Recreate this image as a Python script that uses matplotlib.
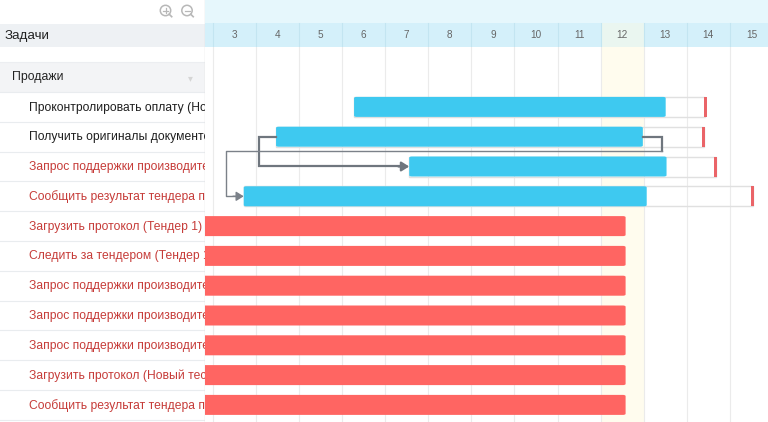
import matplotlib
matplotlib.use('Agg')
import matplotlib.pyplot as plt
from matplotlib.patches import Rectangle, Circle, FancyBboxPatch

plt.rcParams['font.family'] = ['Liberation Sans', 'DejaVu Sans']

# ---------------- data ----------------
header_title = "Задачи"
group_name = "Продажи"
task_names = [
    "Проконтролировать оплату (Новый тест)",
    "Получить оригиналы документов (Тендер 1)",
    "Запрос поддержки производителя (Тендер 1)",
    "Сообщить результат тендера продажам (Тендер 1)",
    "Загрузить протокол (Тендер 1)",
    "Следить за тендером (Тендер 1)",
    "Запрос поддержки производителя (Новый тест)",
    "Запрос поддержки производителя (Тендер 2)",
    "Запрос поддержки производителя (Тендер 3)",
    "Загрузить протокол (Новый тест)",
    "Сообщить результат тендера продажам (Новый тест)",
]
task_late = [False, False, True, True, True, True, True, True, True, True, True]
bar_overdue = [False, False, False, False, True, True, True, True, True, True, True]
task_start = [6.28, 4.47, 7.56, 3.72, 1.0, 1.0, 1.0, 1.0, 1.0, 1.0, 1.0]
task_end = [13.51, 12.98, 13.53, 13.07, 12.58, 12.58, 12.58, 12.58, 12.58, 12.58, 12.58]
task_deadline = [14.43, 14.39, 14.67, 15.53, None, None, None, None, None, None, None]
links = [(1, 2, 'SS'), (1, 3, 'FS')]
day_labels = [3, 4, 5, 6, 7, 8, 9, 10, 11, 12, 13, 14, 15]
today = 12

# ---------------- layout ----------------
W, H = 768, 422
PANEL = 205
HEAD = 47
ROW0 = 92.0
ROWH = 29.8
COLW = 43.1
DAY3_PX = 212.7
X0 = 3 - (DAY3_PX - PANEL) / COLW
X1 = 3 + (W - DAY3_PX) / COLW

def row_px(i):
    return ROW0 + ROWH * (i + 0.5)

BLUE = '#3ec9f0'
RED = '#ff6562'
MARK = '#ea6468'
TXT_RED = '#c63c39'
TXT_BLK = '#1f1f1f'
GRID = '#ebebeb'

fig = plt.figure(figsize=(W / 100, H / 100), dpi=100)
fig.patch.set_facecolor('white')

# ---------------- left panel ----------------
axl = fig.add_axes([0, 0, PANEL / W, 1])
axl.set_xlim(0, PANEL)
axl.set_ylim(H, 0)
axl.axis('off')
axl.axhspan(23.5, HEAD, color='#eef1f4', lw=0)
axl.text(5, 35.5, header_title, fontsize=9.6, color='#222222', va='center', ha='left')
axl.axhspan(62, ROW0, color='#f3f4f6', lw=0)
axl.text(12, 77, group_name, fontsize=8.8, color='#222222', va='center', ha='left')
axl.text(190, 78, '▾', fontsize=7, color='#d5d5d5', va='center', ha='center',
         family=['DejaVu Sans'])
axl.axhline(62, color='#eceef1', lw=0.8)
for k in range(len(task_names) + 1):
    axl.axhline(row_px(k - 0.5), color='#e9ecef', lw=0.8)
for i, name in enumerate(task_names):
    axl.text(29, row_px(i) + 0.5, name, fontsize=8.7,
             color=TXT_RED if task_late[i] else TXT_BLK,
             va='center', ha='left', clip_on=True)
# zoom icons
for cx, sign in [(165.5, '+'), (187, '-')]:
    axl.add_patch(Circle((cx, 10.5), 5.2, fill=False, ec='#b8b8b8', lw=1.1))
    axl.plot([cx + 3.7, cx + 6.2], [14.2, 16.7], color='#b8b8b8', lw=1.2)
    axl.plot([cx - 2.5, cx + 2.5], [10.5, 10.5], color='#b8b8b8', lw=0.9)
    if sign == '+':
        axl.plot([cx, cx], [8, 13], color='#b8b8b8', lw=0.9)
axl.axvline(PANEL - 0.5, color='#dcdcdc', lw=1)

# ---------------- header ----------------
axh = fig.add_axes([PANEL / W, (H - HEAD) / H, (W - PANEL) / W, HEAD / H])
axh.set_xlim(X0, X1)
axh.set_ylim(HEAD, 0)
axh.axis('off')
axh.axhspan(0, 23.3, color='#e6f7fc', lw=0)
axh.axhspan(23.3, HEAD, color='#d4f0fa', lw=0)
axh.add_patch(Rectangle((today, 23.3), 1, HEAD - 23.3, color='#eaf6f0', lw=0))
for d in day_labels:
    axh.plot([d, d], [23.3, HEAD], color='#c3e5f1', lw=0.8)
    axh.text(d + 0.5, 35.3, str(d), fontsize=7.2, color='#666666',
             ha='center', va='center')

# ---------------- timeline ----------------
axt = fig.add_axes([PANEL / W, 0, (W - PANEL) / W, (H - HEAD) / H])
axt.set_xlim(X0, X1)
axt.set_ylim((H - ROW0) / ROWH - 0.5, (HEAD - ROW0) / ROWH - 0.5)
axt.axis('off')
axt.axvspan(today, today + 1, color='#fffcee', lw=0, zorder=0)
for d in day_labels:
    axt.axvline(d, color=GRID, lw=0.8, zorder=1)

bh = 20 / ROWH
n = len(task_names)
for i in range(n):
    dl = task_deadline[i]
    if dl is not None:
        axt.add_patch(Rectangle((task_start[i], i - bh / 2), dl - task_start[i], bh,
                                fill=False, ec='#e0e0e0', lw=1, zorder=2))
        axt.add_patch(Rectangle((dl - 0.035, i - bh / 2), 0.07, bh,
                                fc=MARK, lw=0, zorder=4))
bars = axt.barh(range(n), [e - s for s, e in zip(task_start, task_end)], left=task_start,
                height=bh, color=[RED if o else BLUE for o in bar_overdue], zorder=3)
# rounded corners: replace each bar rectangle by a rounded box of same bounds
for r in bars.patches:
    x, y = r.get_x(), r.get_y()
    w, h = r.get_width(), r.get_height()
    axt.add_patch(FancyBboxPatch((x, y), w, h,
                                 boxstyle='round,pad=0,rounding_size=0.06',
                                 mutation_aspect=ROWH / COLW,
                                 fc=r.get_facecolor(), lw=0, zorder=3))
    r.set_visible(False)

THICK = '#6f767e'
THIN = '#7b8189'
for a, b, kind in links:
    if kind == 'SS':
        xo = task_start[a] - 0.40
        axt.plot([task_start[a], xo, xo, task_start[b] - 0.2], [a, a, b, b],
                 color=THICK, lw=1.6, zorder=5, solid_joinstyle='miter')
        axt.annotate('', xy=(task_start[b], b), xytext=(task_start[b] - 0.25, b),
                     arrowprops=dict(arrowstyle='-|>,head_length=0.45,head_width=0.28',
                                     color=THICK, lw=1.6, shrinkA=0, shrinkB=0,
                                     mutation_scale=10), zorder=5)
    else:
        xr = task_end[a] + 0.44
        ym = a + 0.47
        xl = task_start[b] - 0.42
        axt.plot([task_end[a], xr, xr], [a, a, ym], color=THICK, lw=1.6, zorder=5,
                 solid_joinstyle='miter')
        axt.plot([xr, xl, xl, task_start[b] - 0.2], [ym, ym, b, b], color=THIN,
                 lw=1.0, zorder=5)
        axt.annotate('', xy=(task_start[b], b), xytext=(task_start[b] - 0.25, b),
                     arrowprops=dict(arrowstyle='-|>,head_length=0.45,head_width=0.28',
                                     color=THIN, lw=1.0, shrinkA=0, shrinkB=0,
                                     mutation_scale=10), zorder=5)

fig.savefig('out.png', dpi=100)
